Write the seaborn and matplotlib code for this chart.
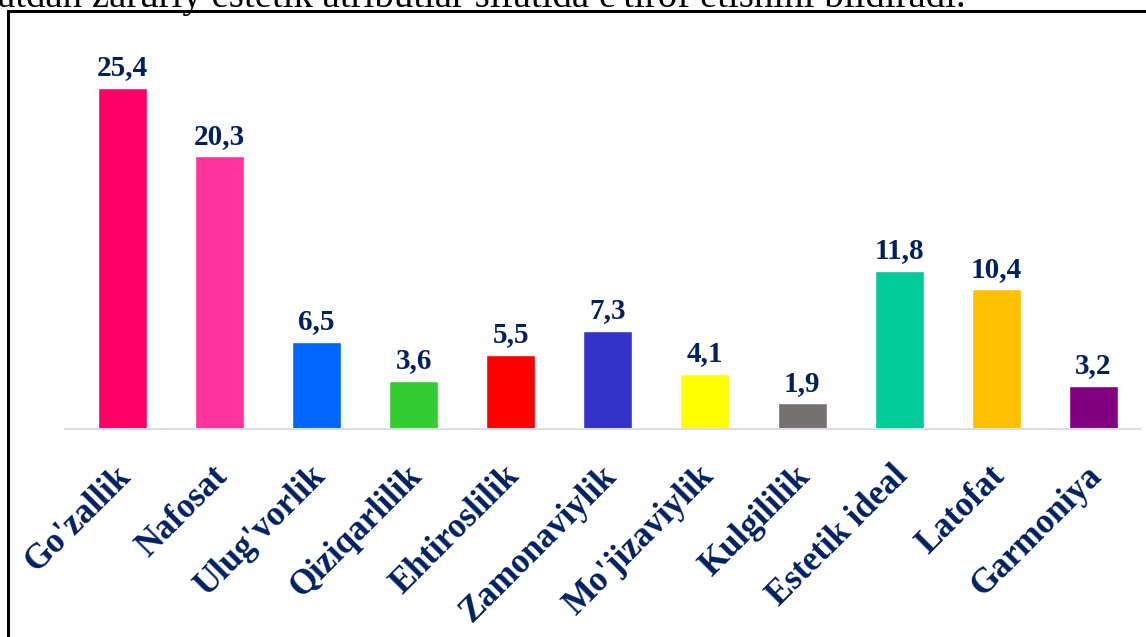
import matplotlib
matplotlib.use("Agg")
import matplotlib.pyplot as plt
import matplotlib.transforms as mtransforms
from matplotlib.patches import Rectangle
import seaborn as sns
import pandas as pd

# ── Données ────────────────────────────────────────────────────────────
categories = ["Go'zallik", "Nafosat", "Ulug'vorlik", "Qiziqarlilik", "Ehtiroslilik",
              "Zamonaviylik", "Mo'jizaviylik", "Kulgililik", "Estetik ideal",
              "Latofat", "Garmoniya"]
values = [25.4, 20.3, 6.5, 3.6, 5.5, 7.3, 4.1, 1.9, 11.8, 10.4, 3.2]
colors = ["#FF0066", "#FF3399", "#0066FF", "#33CC33", "#FF0000", "#3333CC",
          "#FFFF00", "#767171", "#00CC99", "#FFC000", "#800080"]
header_text = "atdan zaruriy estetik atributlar sifatida e'tirof etishini bildiradi."

navy = "#002060"
sns.set_style("white")
plt.rcParams['font.family'] = ['Liberation Serif', 'DejaVu Serif']

df = pd.DataFrame({'cat': categories, 'val': values})

fig = plt.figure(figsize=(11.46, 6.37), dpi=100)
ax = fig.add_axes([65/1146, 1 - 429/637, (1140 - 65)/1146, (429 - 53)/637])

sns.barplot(data=df, x='cat', y='val', hue='cat', palette=colors,
            width=0.505, legend=False, ax=ax, saturation=1)

for i, v in enumerate(values):
    ax.text(i, v + 0.5, f"{v:.1f}".replace('.', ','), ha='center', va='bottom',
            fontsize=21, fontweight='bold', color=navy)

ax.set_xlim(-0.59, 10.48)
ax.set_ylim(0, 28)
ax.set_xlabel('')
ax.set_ylabel('')
ax.set_yticks([])
for s in ['top', 'right', 'left']:
    ax.spines[s].set_visible(False)
ax.spines['bottom'].set_color('#D9DEE8')
ax.spines['bottom'].set_linewidth(1.5)

ax.set_xticks(range(len(categories)))
ax.set_xticklabels(categories, rotation=45, ha='right', va='top',
                   rotation_mode='anchor', fontsize=25, fontweight='bold', color=navy)
ax.tick_params(axis='x', length=0, pad=22)
offset = mtransforms.ScaledTranslation(-8/100, 0, fig.dpi_scale_trans)
for lab in ax.get_xticklabels():
    lab.set_transform(lab.get_transform() + offset)

# cadre du document et texte coupé en haut
fig.patches.append(Rectangle((8/1146, -0.1), 1.2, 1 - 11/637 + 0.1,
                             transform=fig.transFigure, fill=False,
                             edgecolor='black', linewidth=2.2))
fig.text(-2/1146, 1 - 7/637, header_text, ha='left', va='baseline',
         fontsize=28, color='black')

plt.savefig('out.png', dpi=100)
